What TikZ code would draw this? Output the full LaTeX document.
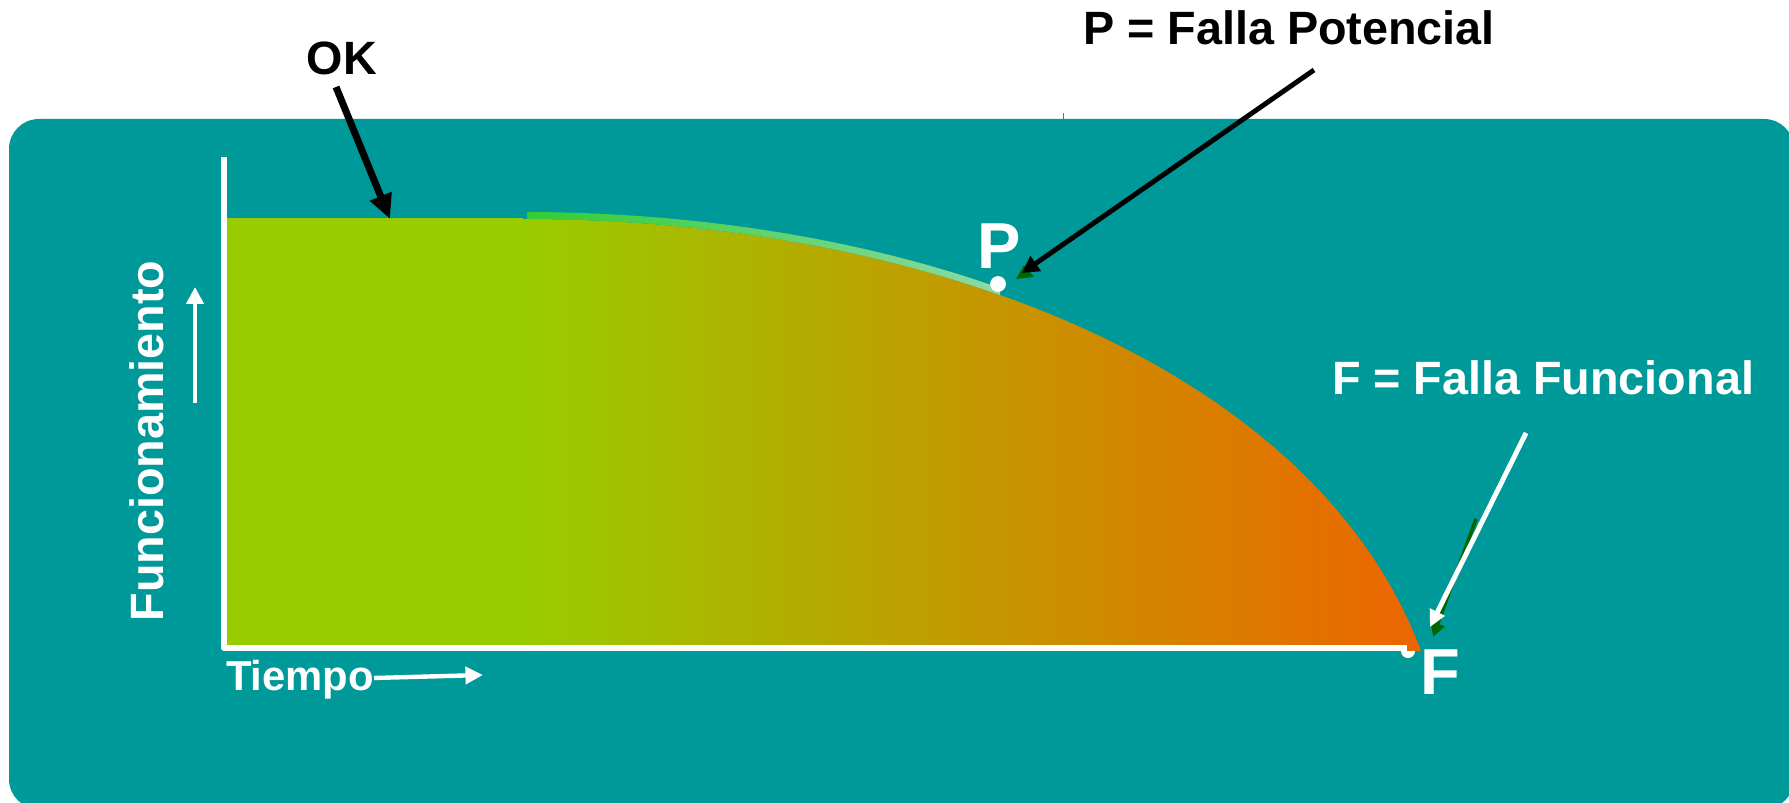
\documentclass[tikz,border=0pt]{standalone}
\usepackage{fontspec}
\setmainfont{Liberation Sans}
\usetikzlibrary{arrows.meta}
\definecolor{tealbg}{RGB}{0,153,153}
\definecolor{lime}{RGB}{153,204,0}
\definecolor{gold}{RGB}{200,154,0}
\definecolor{orng}{RGB}{237,101,0}
\definecolor{brightgreen}{RGB}{51,204,51}
\definecolor{mint}{RGB}{140,218,165}
\definecolor{dkgreen}{RGB}{0,102,0}
\begin{document}
\begin{tikzpicture}[x=0.02cm,y=-0.02cm,
  lbl/.style={font=\bfseries\fontsize{26.6}{30}\selectfont, inner sep=0pt, anchor=base},
  biglbl/.style={font=\bfseries\fontsize{37}{40}\selectfont, inner sep=0pt, anchor=base, text=white},
  blackarrow/.style={draw=black, line width=#1},
  whitearrow/.style={draw=white, line width=#1}]
\useasboundingbox (0,0) rectangle (1789,803);
% background panel
\begin{scope}
\clip (0,0) rectangle (1789,803);
\fill[tealbg, rounded corners=17pt] (9,119) rectangle (1794,809);
\end{scope}
\draw[tealbg, line width=0.5pt] (1063,113) -- (1063,119);
% dot at F (partly hidden)
\fill[white] (1408,651) circle (4pt);
% functioning area
\fill[lime] (227,218) rectangle (523,648);
\shade[left color=lime, middle color=gold, right color=orng] (522,219) .. controls (950,219) and (1320,380) .. (1421,651) -- (522,651) -- cycle;
% highlight band along curve
\begin{scope}
\clip (522,212) .. controls (950,212) and (1320,373) .. (1421,644) -- (1421,651) .. controls (1320,380) and (950,219) .. (522,219) -- cycle;
\shade[left color=brightgreen, right color=mint] (527,200) rectangle (1000,320);
\end{scope}
% axes
\draw[white, line width=3.4pt, line join=round] (224,157) -- (224,648) -- (1407,648);
% P dot
\fill[white] (998,284) circle (4.5pt);
% labels
\node[lbl] (ok) at (342,75) {OK};
\node[lbl] (pdef) at (1289,45) {P = Falla Potencial};
\node[lbl, text=white] (fdef) at (1543,395) {F = Falla Funcional};
\node[biglbl] (plbl) at (999,269) {P};
\node[biglbl] (flbl) at (1440,694) {F};
\node[lbl, text=white, font=\bfseries\fontsize{23.8}{27}\selectfont] (tiempo) at (300,690) {Tiempo};
\node[lbl, text=white, rotate=90] (func) at (163,441) {Funcionamiento};
% arrow coordinates
\coordinate (okS) at (336,87);
\coordinate (okE) at (390,219);
\coordinate (pS) at (1314,70);
\coordinate (pE) at (1022,273);
\coordinate (fS) at (1526,433);
\coordinate (fE) at (1430,627);
\coordinate (gS) at (1476,519);
\coordinate (gE) at (1433,637);
\coordinate (tS) at (374,678);
\coordinate (tE) at (483,675);
\coordinate (vS) at (195,403);
\coordinate (vE) at (195,287);
% arrows
\draw[blackarrow=4pt, -{Triangle[length=14pt,width=12.5pt]}] (okS) -- (okE);
\fill[dkgreen] (1016,279) -- (1024,265) -- (1034,277) -- cycle;
\draw[blackarrow=2.8pt, -{Triangle[length=9.5pt,width=10pt]}] (pS) -- (pE);
\draw[dkgreen, line width=2pt, -{Triangle[length=8pt,width=8pt]}] (gS) -- (gE);
\draw[whitearrow=2.8pt, -{Triangle[length=9.5pt,width=9pt]}] (fS) -- (fE);
\draw[whitearrow=2.5pt, -{Triangle[length=10pt,width=9.6pt]}] (tS) -- (tE);
\draw[whitearrow=2.8pt, -{Triangle[length=9.6pt,width=9.6pt]}] (vS) -- (vE);
\end{tikzpicture}
\end{document}
